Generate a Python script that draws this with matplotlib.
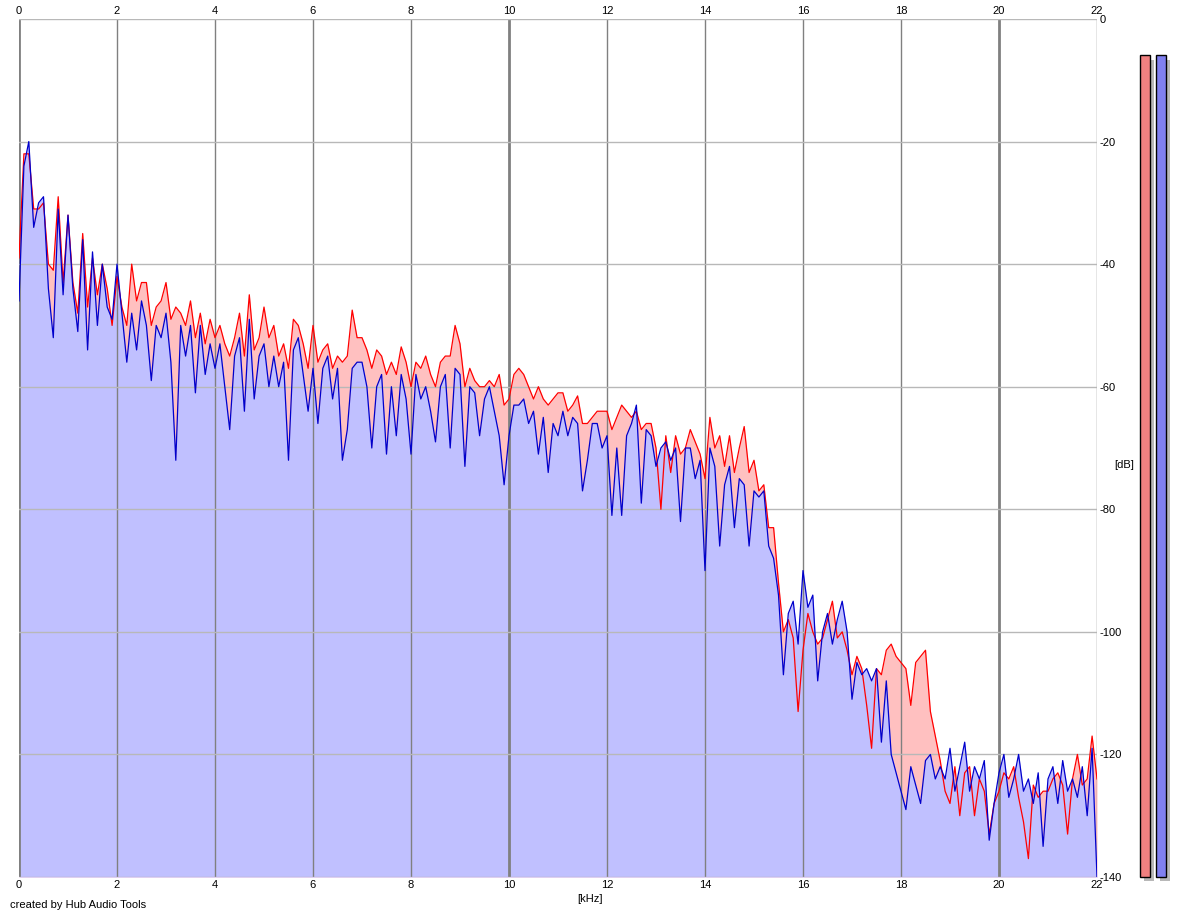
import numpy as np
import matplotlib.pyplot as plt
from matplotlib.patches import Rectangle

# frequency grid [kHz], 0.1 kHz steps
freq_khz = np.round(np.arange(221) * 0.1, 1)

# channel 2 (blue), dB, one row per kHz
blue_db = [
    -46, -24, -20, -34, -30, -29, -44, -52, -31, -45,
    -32, -44, -51, -36, -54, -38, -50, -40, -47, -49,
    -40, -48, -56, -48, -54, -46, -50, -59, -50, -52,
    -48, -56, -72, -50, -55, -50, -61, -50, -58, -53,
    -57, -53, -60, -67, -55, -52, -64, -49, -62, -55,
    -53, -60, -55, -60, -56, -72, -54, -52, -58, -64,
    -57, -66, -57, -55, -62, -57, -72, -67, -57, -56,
    -56, -60, -70, -60, -58, -71, -60, -68, -58, -62,
    -71, -58, -62, -60, -64, -69, -60, -58, -70, -57,
    -58, -73, -60, -61, -68, -62, -60, -64, -68, -76,
    -68, -63, -63, -62, -66, -64, -71, -65, -74, -66,
    -68, -64, -68, -65, -66, -77, -72, -66, -66, -70,
    -68, -81, -70, -81, -68, -66, -63, -79, -67, -68,
    -73, -70, -69, -72, -70, -82, -70, -70, -75, -72,
    -90, -70, -73, -86, -76, -73, -83, -75, -76, -86,
    -77, -78, -77, -86, -88, -94, -107, -97, -95, -102,
    -90, -96, -94, -108, -100, -97, -102, -98, -95, -100,
    -111, -105, -107, -106, -108, -106, -118, -108, -120, -123,
    -126, -129, -122, -125, -128, -121, -120, -124, -122, -124,
    -119, -126, -122, -118, -126, -122, -124, -121, -134, -128,
    -123, -120, -127, -124, -120, -126, -124, -128, -123, -135,
    -124, -122, -128, -121, -126, -124, -127, -122, -130, -119,
    -140,
]

# channel 1 (red), dB
red_db = [
    -39, -22, -22, -31, -31, -30, -40, -41, -29, -43,
    -32, -43, -48, -35, -47, -39, -45, -40, -44, -50,
    -42, -47, -50, -40, -46, -43, -43, -50, -47, -46,
    -43, -49, -47, -48, -50, -46, -52, -48, -53, -49,
    -52, -50, -53, -55, -52, -48, -55, -45, -54, -52,
    -47, -52, -50, -55, -53, -57, -49, -50, -53, -57,
    -50, -56, -54, -53, -57, -55, -56, -55, -47.5, -52,
    -52, -54, -57, -54, -55, -58, -56, -58, -53.5, -56,
    -60, -56, -57, -55, -58, -60, -56, -55, -55, -50,
    -53, -60, -57, -59, -60, -60, -59, -60, -58, -63,
    -62, -58, -57, -58, -60, -62, -60, -62, -63, -62,
    -61, -61, -64, -63, -61.5, -66, -66, -65, -64, -64,
    -64, -67, -65, -63, -64, -65, -64, -67, -66, -66,
    -70, -80, -68, -74, -68, -71, -70, -67, -69, -71,
    -75, -65, -70, -68, -73, -68, -74, -70, -66.5, -74,
    -72, -77, -76, -83, -83, -92, -100, -98, -101, -113,
    -103, -97, -100, -102, -101, -98, -95, -101, -100, -103,
    -107, -104, -106, -112, -119, -106, -107, -103, -102, -104,
    -105, -106, -112, -105, -104, -103, -113, -117, -121, -126,
    -128, -122, -130, -123, -122, -130, -124, -126, -133, -128,
    -126, -123, -124, -122, -127, -131, -137, -125, -127, -126,
    -126, -124, -123, -125, -133, -124, -120, -125, -124, -117,
    -124,
]

# peak meters at the right (red, blue), dB
meter_db = [-5.9, -5.9]

x_ticks = list(range(0, 23, 2))
y_ticks = list(range(-140, 1, 20))

plt.rcParams['font.family'] = ['Liberation Sans', 'DejaVu Sans']
plt.rcParams['font.size'] = 8
plt.rcParams['axes.unicode_minus'] = False

W, H = 1180, 917
fig = plt.figure(figsize=(W / 100, H / 100), dpi=100)
fig.patch.set_facecolor('white')

ax = fig.add_axes([19 / W, (H - 877) / H, 1078 / W, 858 / H])

# fills: red area first, blue area on top of it
ax.fill_between(freq_khz, red_db, -140, color='#ffc0c0', lw=0, zorder=1)
ax.fill_between(freq_khz, blue_db, -140, color='#c0c0ff', lw=0, zorder=1.1)

# grid
for v in x_ticks:
    ax.axvline(v, color='#808080', lw=2 if v % 10 == 0 else 1, zorder=2)
for h in y_ticks:
    ax.axhline(h, color='#b8b8b8', lw=1, zorder=2)

ax.plot(freq_khz, red_db, color='#ff0000', lw=0.9, zorder=3)
ax.plot(freq_khz, blue_db, color='#0000cc', lw=0.9, zorder=4)

ax.set_xlim(0, 22)
ax.set_ylim(-140, 0)
ax.set_xticks(x_ticks)
ax.set_yticks(y_ticks)
ax.xaxis.set_ticks_position('both')
ax.yaxis.tick_right()
ax.tick_params(axis='x', length=0, pad=2, labeltop=True, labelbottom=True)
ax.tick_params(axis='y', length=0, pad=2)
for s in ax.spines.values():
    s.set_visible(False)

fig.text(1114 / W, 1 - 465 / H, '[dB]', ha='left', va='center')
fig.text(590 / W, 1 - 899 / H, '[kHz]', ha='center', va='center')
fig.text(10 / W, 1 - 905 / H, 'created by Hub Audio Tools', ha='left', va='center')

# level meters
mx = fig.add_axes([1136 / W, (H - 877) / H, 40 / W, 858 / H])
mx.set_xlim(0, 40)
mx.set_ylim(-140, 0)
mx.axis('off')
px = 140 / 858
for i, (lev, col) in enumerate(zip(meter_db, ['#f08080', '#8080f0'])):
    x0 = 4 + i * 16
    mx.add_patch(Rectangle((x0 + 4, -140 - 4 * px), 10, lev + 140 - 1 * px,
                           fc='#b8b8b8', ec='none', clip_on=False, zorder=1))
    mx.add_patch(Rectangle((x0, -140), 9.5, lev + 140,
                           fc=col, ec='black', lw=1, clip_on=False, zorder=2))

fig.savefig('out.png', dpi=100)
